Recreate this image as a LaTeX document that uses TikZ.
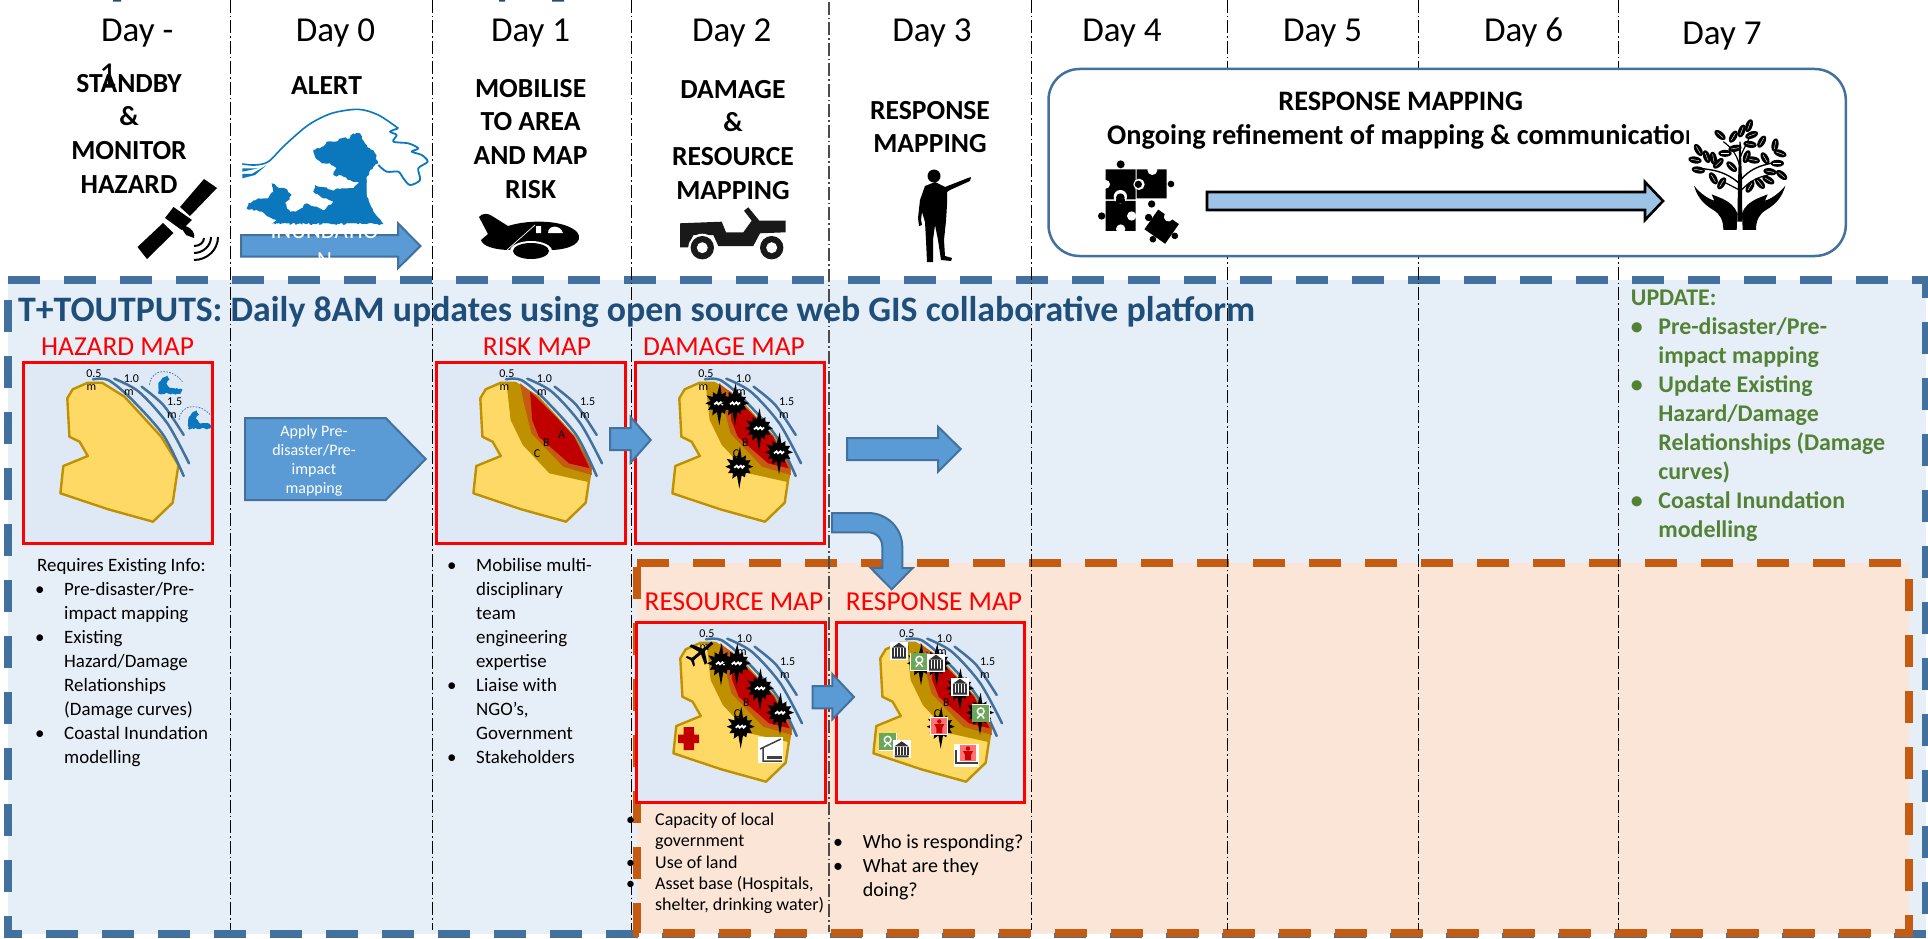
\documentclass[tikz,border=0pt]{standalone}
\usepackage{fontspec}
\setmainfont{Carlito}
\usetikzlibrary{decorations.pathmorphing}
\definecolor{panelblue}{HTML}{E6EEF8}
\definecolor{panelorange}{HTML}{FBE5D6}
\definecolor{dashblue}{HTML}{41719C}
\definecolor{dashorange}{HTML}{C55A11}
\definecolor{framefill}{HTML}{DEE9F5}
\definecolor{arrowblue}{HTML}{5B9BD5}
\definecolor{lightarrow}{HTML}{9DC3E6}
\definecolor{titleblue}{HTML}{1F4E79}
\definecolor{landyellow}{HTML}{FFD966}
\definecolor{landgold}{HTML}{BF9000}
\definecolor{zonered}{HTML}{C00000}
\definecolor{wavedark}{HTML}{0B78BE}
\definecolor{updgreen}{HTML}{548235}
\definecolor{redtitle}{HTML}{FF0000}
\definecolor{icongreen}{HTML}{6BA75A}
\newcommand\fsz[2]{\fontsize{#1pt}{#2pt}\selectfont}
\newcommand\firstline[1]{\rule{0pt}{#1pt}}
\newcommand\bul[1]{\makebox[#1pt][l]{\textbullet}}
\newcommand\handpath{(42,212) .. controls (50,240) and (65,265) .. (100,285) .. controls (120,297) and (130,315) .. (130,345) -- (170,345) -- (172,295) .. controls (165,275) and (150,262) .. (125,250) -- (95,238) -- (103,257) .. controls (85,252) and (60,235) .. (42,212) -- cycle}
\tikzset{
  x=1pt,y=-1pt,
  dayline/.style={line width=1pt,dash pattern=on 13pt off 3pt on 1.5pt off 3pt},
  daylabel/.style={anchor=base,inner sep=0pt,font=\fsz{35}{42}},
  headlabel/.style={anchor=north,inner sep=0pt,align=center,font=\fsz{27.6}{33.7}\bfseries},
  redlabel/.style={anchor=base,inner sep=0pt,text=redtitle,font=\fsz{27.4}{32}},
  mapframe/.style={draw=redtitle,line width=3pt,fill=framefill},
  blockarrow/.style={fill=arrowblue,draw=dashblue,line width=2pt,line join=miter},
  bodytext/.style={anchor=north west,inner sep=0pt,align=left,font=\fsz{18.9}{24}},
  smalltext/.style={anchor=north west,inner sep=0pt,align=left,font=\fsz{18}{21.4}},
  maptext/.style={inner sep=0pt,font=\fsz{12}{14}},
  coast/.style={draw=dashblue,line width=2.5pt,line cap=round},
  mapbase/.pic={
    \fill[landyellow] (64.8,20.7)--(79,20.7)--(101.5,34.7)--(119.9,54.7)--(138.2,74.7)--(155.4,103)--(149.7,140.7)--(130,159.7)--(85.2,147.3)--(37.4,131.3)--(40.3,104)--(64.8,94)--(56.6,79.7)--(46.4,74.7)--(44.3,36.3)--(49.7,27.3)--cycle;
  },
  mapedge/.pic={
    \draw[landgold,line width=2.4pt,line join=round] (64.8,20.7)--(79,20.7)--(101.5,34.7)--(119.9,54.7)--(138.2,74.7)--(155.4,103)--(149.7,140.7)--(130,159.7)--(85.2,147.3)--(37.4,131.3)--(40.3,104)--(64.8,94)--(56.6,79.7)--(46.4,74.7)--(44.3,36.3)--(49.7,27.3)--cycle;
  },
  mapzones/.pic={
    \fill[landgold] (70.5,20.7)--(79,20.7)--(101.5,34.7)--(119.9,54.7)--(138.2,74.7)--(155.4,103)--(153.7,120.3)--(113.3,111.3)--(86.8,83)--(74.6,58)--cycle;
    \fill[dashorange] (84,21.3)--(101.5,34.7)--(119.9,54.7)--(138.2,74.7)--(155.4,103)--(155.8,113)--(127.2,104.7)--(95.4,71.3)--(88,41.3)--cycle;
    \fill[zonered] (94.1,29.7)--(119.9,54.7)--(138.2,74.7)--(153.7,106.3)--(133,101.3)--(102.7,74.7)--(96.2,58)--cycle;
  },
  mapcoast/.pic={
    \draw[coast] plot[smooth] coordinates {(70,17.3)(85.2,18)(107.6,36.3)(140.3,73)(160.7,114)};
    \draw[coast] plot[smooth] coordinates {(91.3,16.7)(115.8,29.7)(144.3,61.3)(166,101.3)};
    \draw[coast] plot[smooth] coordinates {(118.6,24.7)(140.3,43)(160.7,73)};
    \node[maptext] (-a) at (70.9,11.3) {0.5};
    \node[maptext] (-b) at (68.4,25.7) {m};
    \node[maptext] (-c) at (108.4,16.3) {1.0};
    \node[maptext] (-d) at (106,30.3) {m};
    \node[maptext] (-e) at (151.7,39.3) {1.5};
    \node[maptext] (-f) at (149,53.7) {m};
  },
  zoneletters/.pic={
    \node[maptext] (-a) at (125.6,72.3) {A};
    \node[maptext] (-b) at (110.5,80.3) {B};
    \node[maptext] (-c) at (101,91.3) {C};
  },
  burst/.pic={
    \fill[black] (0:14)--(12:9)--(30:13)--(45:9)--(62:12)--(75:9)--(90:22)--(105:9)--(120:14)--(135:9)--(150:13)--(165:9)--(180:14)--(195:9)--(212:15)--(225:9)--(240:13)--(255:9)--(272:20)--(285:9)--(300:13)--(315:9)--(330:13)--(345:9)--cycle;
    \draw[white,line width=1.8pt] (-5,1)--(-2.5,-1)--(-1,1)--(1.5,-1)--(3,1)--(5,-1);
  },
  smallwave/.pic={
    \draw[dashblue,line width=.8pt,dash pattern=on 1.5pt off 1.5pt] (-17,3) .. controls (-15,-14) and (5,-14) .. (16,0);
    \fill[wavedark,decorate,decoration={random steps,segment length=2pt,amplitude=1pt}] (-8,12)--(-7,0)--(-4,-4)--(1,-6)--(3,-2)--(0,2)--(3,6)--(16,8)--(14,12)--cycle;
  },
  bankicon/.pic={
    \fill[white] (-9,-9) rectangle (9,9);
    \fill[black!80] (-7,-3)--(0,-8)--(7,-3)--cycle (-7,6) rectangle (7,8);
    \foreach \cx in {-6,-3,0,3,6} {\fill[black!80] (\cx-1,-2.5) rectangle (\cx+.8,6);}
  },
  greenicon/.pic={
    \fill[white] (-9,-9) rectangle (9,9);
    \fill[icongreen] (-8.5,-8.5) rectangle (8.5,8.5);
    \draw[white,line width=1.4pt] (0,-2) circle[radius=3.4];
    \draw[white,line width=1.4pt] (-3.5,5)--(0,1)--(3.5,5);
  },
  redicon/.pic={
    \fill[white] (-9,-9) rectangle (9,9);
    \fill[red!55!white] (-8,-8) rectangle (8,8);
    \fill[red!80!black] (0,-4.5) circle[radius=2.2] (-5,-2)--(5,-2)--(3,2)--(3,7)--(-3,7)--(-3,2)--cycle;
  }
}
\begin{document}
\begin{tikzpicture}
\clip (0,0) rectangle (1928,939);
\useasboundingbox (0,0) rectangle (1928,939);
\fill[white] (0,0) rectangle (1928,939);

% clipped descenders at the top edge
\fill[titleblue] (113,0) rectangle (121,1.6) (499,0) rectangle (505,1.6) (552,0) rectangle (564,1.6);

% panels
\fill[panelblue] (8,280) rectangle (1926,934);
\draw[dashblue,line width=8pt,dash pattern=on 32pt off 24pt] (8,280)--(1926,280)--(1926,934);
\draw[dashblue,line width=8pt,dash pattern=on 32pt off 24pt] (1926,934)--(8,934)--(8,280);
\fill[panelorange] (637,563) rectangle (1909,933);
\draw[dashorange,line width=8pt,dash pattern=on 32pt off 24pt] (637,563)--(1909,563)--(1909,933)--(637,933)--(637,563);

% day separators
\foreach \lx in {230.6,432,631,1031,1227,1418,1618} {\draw[dayline] (\lx,0)--(\lx,930);}
\draw[dayline,black!70,line width=1.6pt] (829,2)--(829,932);

% day labels
\node[daylabel,anchor=base west] (dm) at (101,42) {Day -};
\node[daylabel,anchor=base west] (dmb) at (99,87) {1};
\node[daylabel] (d0) at (335.5,42) {Day 0};
\node[daylabel] (d1) at (530.6,42) {Day 1};
\node[daylabel] (d2) at (731.7,42) {Day 2};
\node[daylabel] (d3) at (932,42) {Day 3};
\node[daylabel] (d4) at (1122,42) {Day 4};
\node[daylabel] (d5) at (1322.6,42) {Day 5};
\node[daylabel] (d6) at (1523.6,42) {Day 6};
\node[daylabel] (d7) at (1722,45) {Day 7};

% stage headings
\node[headlabel] (h1) at (129,72) {\firstline{20}STANDBY\\\&\\MONITOR\\HAZARD};
\node[headlabel] (h2) at (326.5,74) {\firstline{20}ALERT};
\node[headlabel] (h3) at (530.6,77) {\firstline{20}MOBILISE\\TO AREA\\AND MAP\\RISK};
\node[headlabel] (h4) at (733,78) {\firstline{20}DAMAGE\\\&\\RESOURCE\\MAPPING};
\node[headlabel] (h5) at (930,99) {\firstline{20}RESPONSE\\MAPPING};

% satellite
\fill[black] (204,179)--(217,188)--(190,216)--(180,207)--cycle (137.5,247)--(147,259)--(173.5,233)--(163,223)--cycle (165,218)--(173.5,207)--(192,220)--(181.6,230)--cycle;
\fill[black] (180,226) .. controls (188,224) and (196,232) .. (194,238) -- (186,235) -- cycle;
\draw[black,line width=2pt] (194,246) .. controls (199,246) and (204,243) .. (204,238);
\draw[black,line width=2pt] (194,253) .. controls (203,253) and (211,246) .. (211,237);
\draw[black,line width=2pt] (194,260) .. controls (207,260) and (218,250) .. (218,237);

% great wave
\pgfmathsetseed{7}
\begin{scope}[shift={(235,100)},scale=0.33333]
\fill[wavedark,decorate,decoration={random steps,segment length=2.6pt,amplitude=1.1pt}]
 (445,372)--(415,335)--(395,290)--(395,240)--(405,210)--(430,190)--(420,160)--(405,145)--(390,130)--(375,100)--(355,100)--(345,115)--(320,115)--(300,125)--(275,125)--(255,145)--(235,150)--(240,170)--(260,190)--(285,190)--(305,205)--(295,225)--(325,230)--(345,240)--(375,250)--(355,265)--(320,265)--(290,270)--(270,262)--(240,255)--(235,275)--(265,295)--(295,305)--(270,330)--(245,320)--(215,310)--(190,330)--(165,335)--(150,310)--(170,285)--(150,265)--(125,260)--(110,250)--(115,275)--(95,295)--(70,295)--(40,310)--(35,325)--(75,335)--(100,350)--(125,360)--(110,372)--cycle;
\fill[wavedark] (445,372)--(415,335)--(395,290)--(395,240)--(370,250)--(340,280)--(300,310)--(200,372)--cycle;
\draw[wavedark,line width=1.6pt] plot[smooth] coordinates {(22,192)(60,195)(100,185)(150,135)(220,75)(290,40)(370,28)(430,45)(490,85)};
\fill[wavedark] (22,205)--(70,205)--(22,215)--cycle (22,222)--(50,222)--(95,195)--(60,225)--(22,235)--cycle;
\draw[wavedark,line width=1.8pt,line join=round] plot[smooth] coordinates {(490,85)(465,95)(485,105)(475,125)(520,130)(550,145)(530,155)(560,165)(578,185)(550,205)(555,240)(525,255)(505,235)(490,215)(455,215)(430,195)};
\end{scope}

% inundation arrow
\draw[blockarrow] (241,235)--(398,235)--(398,223.3)--(420.4,246)--(398,268.3)--(398,256.7)--(241,256.7)--cycle;
\node[anchor=base,inner sep=0pt,align=center,text=white,font=\fsz{23}{29}] (inund) at (324.5,238) {INUNDATIO};
\node[anchor=base,inner sep=0pt,text=white,font=\fsz{23}{29}] (inundb) at (324.5,267) {N};

% aeroplane
\fill[black] (479,217) .. controls (482,213) and (488,213) .. (492,216) -- (508,226) .. controls (530,219) and (565,220) .. (577,232) .. controls (585,242) and (570,250) .. (550,250) -- (510,250) .. controls (495,250) and (482,246) .. (481,240) -- (488,234) -- cycle;
\fill[white] (531,251) ellipse[x radius=21,y radius=10];
\fill[black] (531,251) ellipse[x radius=18,y radius=8];
\fill[white] (536,226) rectangle (541,233) (548,233) .. controls (548,225) and (560,224) .. (563,233) -- cycle;
\draw[white,line width=.7pt] (507,250) -- (535,225);

% jeep
\fill[black!90] (680,223.3)--(721.7,221.7)--(726,232.3)--(743.3,232.3)--(751.7,220.7)--(744,210.7)--(748.3,207.3)--(759.3,220.7)--(785.7,220.7)--(785.7,232.3)--(760,233.3)--(753.3,246)--(718.3,246)--(713.3,235)--(693.3,235)--(688.3,247.3)--(680,247.3)--cycle;
\foreach \wx in {702.3,771.7} {
  \fill[white] (\wx,247.7) circle[radius=14];
  \fill[black!90] (\wx,247.7) circle[radius=11.7];
  \fill[white] (\wx,247.7) circle[radius=5.5];
}

% standing person
\fill[black] (934,176) circle[radius=6.5];
\fill[black] (935,182)--(945,187)--(968,178)--(971,177)--(970,181)--(950,190)--(947,192)--(947,205)--(946,221)--(944,240)--(945,256)--(952,258)--(951,261)--(941,260)--(938,240)--(935,225)--(933,240)--(933,262)--(927,262)--(926,240)--(925,222)--(922,212)--(921,220)--(922,225)--(919,226)--(918,218)--(920,200)--(925,186)--cycle;

% rounded panel
\draw[dashblue,line width=2.5pt,fill=white,rounded corners=31pt] (1048.5,69) rectangle (1845.8,256);
\node[anchor=base,inner sep=0pt,font=\fsz{28.2}{33}\bfseries] (rm) at (1400.7,111) {RESPONSE MAPPING};
\node[anchor=base west,inner sep=0pt,font=\fsz{28.4}{33}\bfseries] (ongoing) at (1107,145) {Ongoing refinement of mapping \& communication};
\fill[white] (1689,118) rectangle (1790,235);

% puzzle
\begin{scope}[shift={(1090,155)},scale=0.33333]
  \fill[black] (47,43) rectangle (137,133) (140,43) rectangle (230,130) (47,138) rectangle (137,228);
  \fill[black] (92,28) circle[radius=12] (243,87) circle[radius=10] (185,147) circle[radius=11] (35,183) circle[radius=11];
  \fill[white] (47,88) circle[radius=13] (187,45) circle[radius=15] (125,183) circle[radius=14] (92,222) circle[radius=14];
  \fill[white] (147,88) circle[radius=17];
  \fill[black] (145,88) circle[radius=11];
  \fill[white] (91,125) circle[radius=20];
  \fill[black] (91,128) circle[radius=13];
  \fill[black] (78,132) rectangle (104,145);
  \begin{scope}[shift={(215,215)},rotate=-35]
    \fill[black] (-38,-36) rectangle (38,36);
    \fill[black] (-48,0) circle[radius=11] (0,46) circle[radius=10] (48,0) circle[radius=10];
    \fill[white] (0,-36) circle[radius=14];
  \end{scope}
\end{scope}

% long arrow
\draw[fill=lightarrow,draw=black,line width=2.6pt,line join=miter] (1207,192)--(1645,192)--(1645,182)--(1663,201)--(1645,220)--(1645,210)--(1207,210)--cycle;

% tree in hands
\begin{scope}[shift={(1680,115)},scale=0.33333]
  \fill[black] (172,320)--(174,200)--(178,80)--(182,80)--(186,200)--(187,320)--cycle;
  \draw[black,line width=1.4pt] (178,205) .. controls (130,165) and (95,165) .. (60,160);
  \draw[black,line width=1.4pt] (182,195) .. controls (220,150) and (260,150) .. (290,140);
  \draw[black,line width=1.2pt] (178,150) .. controls (170,115) and (150,95) .. (130,80);
  \draw[black,line width=1.2pt] (180,130) .. controls (190,100) and (205,80) .. (215,50);
  \draw[black,line width=1.2pt] (178,225) -- (120,195);
  \draw[black,line width=1.2pt] (182,228) .. controls (210,195) and (240,185) .. (265,180);
  \foreach \lx/\ly/\la in {185/48/70,207/32/70,160/65/60,120/60/-40,215/60/20,245/80/60,210/88/-10,165/100/10,135/115/0,100/130/100,55/105/-60,80/125/-70,45/135/-10,55/165/-10,115/145/45,155/155/-45,200/125/70,220/135/-10,285/90/80,300/115/-20,255/130/-60,292/145/0,270/170/-10,305/180/-40,265/195/-30,240/205/-50,210/215/60,125/205/60,100/190/-60} {
    \fill[black,shift={(\lx,\ly)},rotate=\la] (0,0) ellipse[x radius=20,y radius=10.5];
    \draw[white,line width=.4pt,shift={(\lx,\ly)},rotate=\la] (-12,0)--(12,0);
  }
  \fill[black] \handpath;
  \begin{scope}[shift={(358,0)},xscale=-1]
    \fill[black] \handpath;
  \end{scope}
\end{scope}

% panel title
\node[anchor=base west,inner sep=0pt,text=titleblue,font=\fsz{35.8}{42}\bfseries] (outputs) at (18,321) {T+TOUTPUTS: Daily 8AM updates using open source web GIS collaborative platform};

% map titles
\node[redlabel] (t1) at (117.5,355) {HAZARD MAP};
\node[redlabel] (t2) at (537,355) {RISK MAP};
\node[redlabel] (t3) at (724,355) {DAMAGE MAP};
\node[redlabel] (t4) at (734,610) {RESOURCE MAP};
\node[redlabel] (t5) at (934,610) {RESPONSE MAP};

% hazard map
\draw[mapframe] (23,362) rectangle (212,543);
\begin{scope}[shift={(23,362)}]
  \pic {mapbase}; \pic {mapedge};
  \pic (c1) {mapcoast};
  \pic at (143.5,19.7) {smallwave};
  \pic at (173,54.7) {smallwave};
\end{scope}

% risk map
\draw[mapframe] (436,362) rectangle (625,543);
\begin{scope}[shift={(436,362)}]
  \pic {mapbase}; \pic {mapedge}; \pic {mapzones};
  \pic (c2) {mapcoast};
  \pic (z2) {zoneletters};
\end{scope}

% damage map
\draw[mapframe] (635,362) rectangle (824,543);
\begin{scope}[shift={(635,362)}]
  \pic {mapbase}; \pic {mapedge}; \pic {mapzones};
  \pic (c3) {mapcoast};
  \pic (z3) {zoneletters};
  \foreach \bx/\by in {84.3/41.3,100/41.3,124/66.3,144/90.3,104.3/104.7} {\pic at (\bx,\by) {burst};}
\end{scope}

% resource map
\draw[mapframe] (636,622) rectangle (825,802);
\begin{scope}[shift={(636,622)}]
  \pic {mapbase}; \pic {mapedge}; \pic {mapzones};
  \pic (c4) {mapcoast};
  \pic (z4) {zoneletters};
  \foreach \bx/\by in {85/41.3,100.7/41.3,124/66.3,144/90.7,104.7/104.7} {\pic at (\bx,\by) {burst};}
  % aeroplane marker
  \begin{scope}[shift={(65.7,29.7)},rotate=40]
    \fill[black] (-14,-1.5) rectangle (14,1.5);
    \fill[black] (-2,-1)--(3,-1)--(-3,-12)--(-6,-12)--cycle (-2,1)--(3,1)--(-3,12)--(-6,12)--cycle (-14,-1)--(-11,-1)--(-14,-6)--(-16,-6)--cycle (-14,1)--(-11,1)--(-14,6)--(-16,6)--cycle;
  \end{scope}
  % hospital cross
  \fill[zonered] (47.5,105) rectangle (58,128) (42,112.5) rectangle (63,121);
  % shelter
  \fill[white] (122,115) rectangle (147,141);
  \draw[black!75,line width=1.5pt] (124,127)--(145,117) (127,126)--(127,139)--(146,139);
  \fill[black!75] (131,134) rectangle (146,137);
\end{scope}

% response map
\draw[mapframe] (836,622) rectangle (1024,802);
\begin{scope}[shift={(836,622)}]
  \pic {mapbase}; \pic {mapedge}; \pic {mapzones};
  \pic (c5) {mapcoast};
  \pic (z5) {zoneletters};
  \foreach \bx/\by in {85/41.3,100.7/41.3,124/66.3,144/90.7,104.7/104.7} {\pic at (\bx,\by) {burst};}
  \pic at (63,28.7) {bankicon};
  \pic at (83.3,39.7) {greenicon};
  \pic at (100,40.7) {bankicon};
  \pic at (124,64.7) {bankicon};
  \pic at (144.7,91.3) {greenicon};
  \pic at (103.3,104) {redicon};
  \pic at (51.7,119.7) {greenicon};
  \pic at (65.7,127.3) {bankicon};
  \fill[white] (118,122) rectangle (143,145);
  \draw[black!75,line width=1.5pt] (120,128)--(120,141)--(142,141);
  \pic at (132,131) {redicon};
\end{scope}

% flow arrows
\draw[blockarrow] (245,418)--(385.7,418)--(425.7,459)--(385.7,500)--(245,500)--cycle;
\node[inner sep=0pt,align=center,text=white,font=\fsz{16}{19}] (apply) at (314,461) {Apply Pre-\\disaster/Pre-\\impact\\mapping};
\draw[blockarrow] (610,428)--(630.6,428)--(630.6,417)--(650.7,440)--(630.6,462.7)--(630.6,450)--(610,450)--cycle;
\draw[blockarrow] (847,438)--(938,438)--(938,426.7)--(960.7,449)--(938,471.7)--(938,460)--(847,460)--cycle;
\draw[blockarrow] (832,513)--(868,513) .. controls (887,513) and (902.3,528) .. (902.3,547)--(902.3,568)--(912.7,568)--(891.7,589.3)--(870.7,568)--(882.3,568)--(882.3,547) .. controls (882.3,538) and (876,532.3) .. (868,532.3)--(832,532.3)--cycle;
\draw[blockarrow] (812.7,686)--(832.3,686)--(832.3,674)--(854,697)--(832.3,719.3)--(832.3,708.3)--(812.7,708.3)--cycle;

% text blocks
\node[bodytext] (req) at (35,552) {\firstline{19}\hspace*{2pt}Requires Existing Info:\\
\bul{29}Pre-disaster/Pre-\\\hspace*{29pt}impact mapping\\
\bul{29}Existing\\\hspace*{29pt}Hazard/Damage\\\hspace*{29pt}Relationships\\\hspace*{29pt}(Damage curves)\\
\bul{29}Coastal Inundation\\\hspace*{29pt}modelling};
\node[bodytext] (mob) at (447,552) {\firstline{19}\bul{29}Mobilise multi-\\\hspace*{29pt}disciplinary\\\hspace*{29pt}team\\\hspace*{29pt}engineering\\\hspace*{29pt}expertise\\
\bul{29}Liaise with\\\hspace*{29pt}NGO’s,\\\hspace*{29pt}Government\\
\bul{29}Stakeholders};
\node[smalltext] (cap) at (626,808) {\firstline{17}\bul{29}Capacity of local\\\hspace*{29pt}government\\\bul{29}Use of land\\\bul{29}Asset base (Hospitals,\\\hspace*{29pt}shelter, drinking water)};
\node[bodytext,font=\fsz{20}{24}] (who) at (833,829) {\firstline{19}\bul{29.7}Who is responding?\\\bul{29.7}What are they\\\hspace*{29.7pt}doing?};
\node[anchor=north west,inner sep=0pt,align=left,text=updgreen,font=\fsz{23.9}{29}\bfseries] (upd) at (1630.7,283) {\firstline{22}UPDATE:\\
\bul{27.5}Pre-disaster/Pre-\\\hspace*{27.5pt}impact mapping\\
\bul{27.5}Update Existing\\\hspace*{27.5pt}Hazard/Damage\\\hspace*{27.5pt}Relationships (Damage\\\hspace*{27.5pt}curves)\\
\bul{27.5}Coastal Inundation\\\hspace*{27.5pt}modelling};
\end{tikzpicture}
\end{document}
